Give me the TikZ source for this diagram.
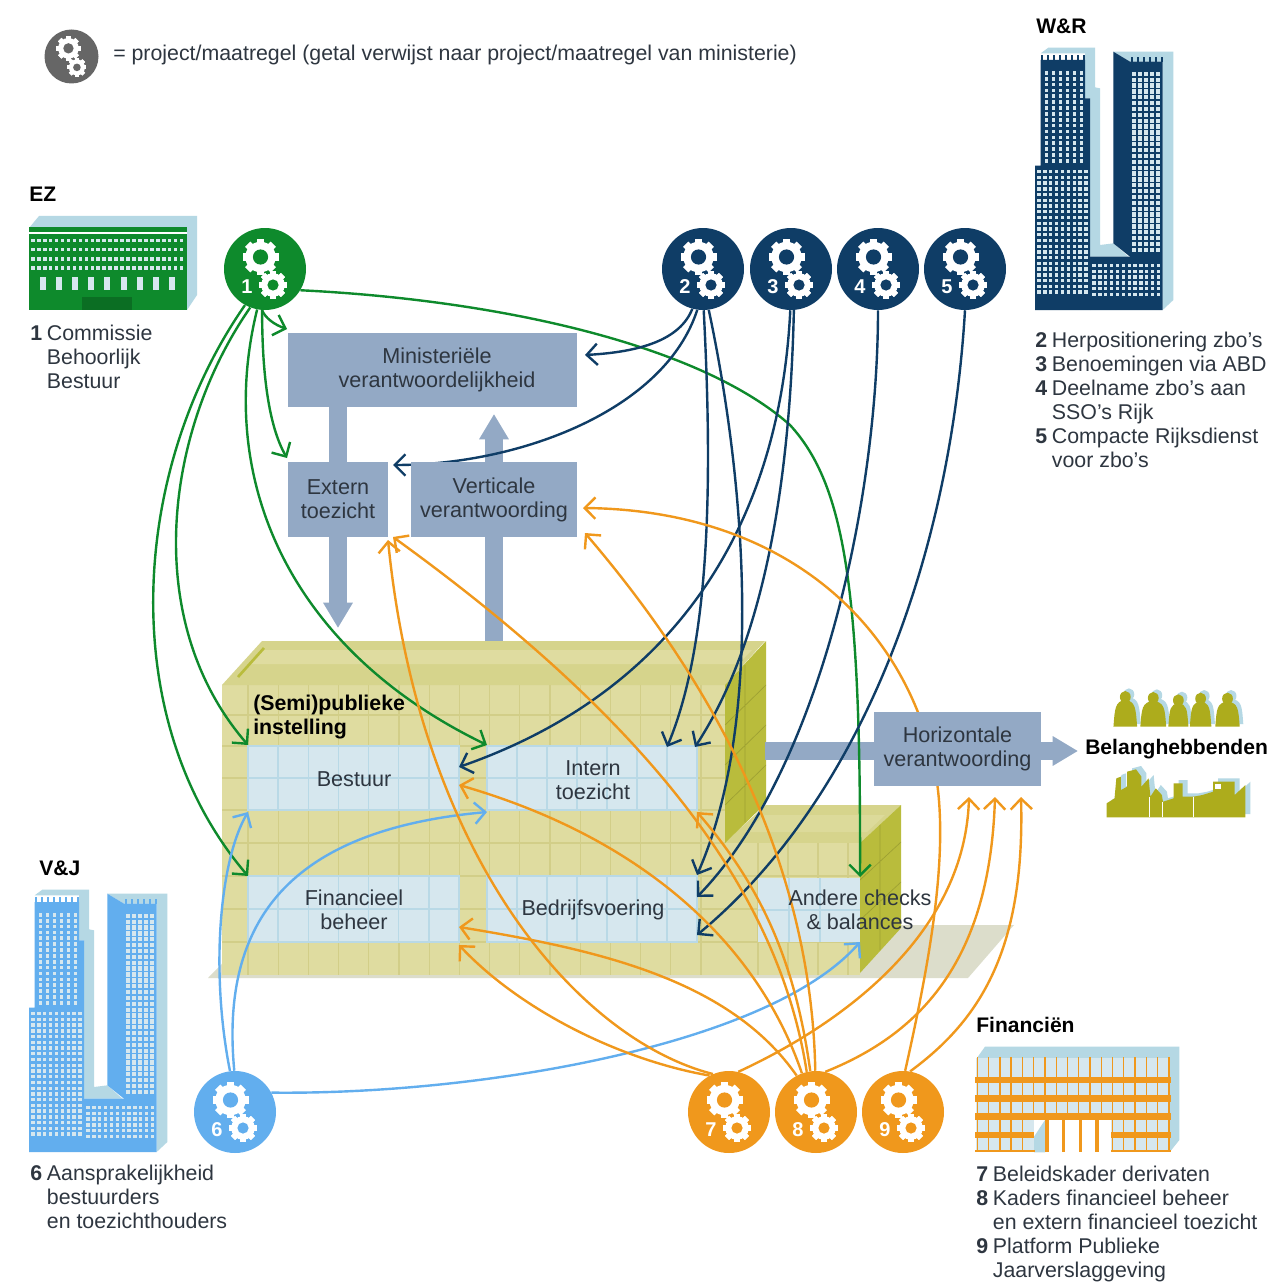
\documentclass[tikz,border=0pt]{standalone}
\usepackage{fontspec}
\setmainfont{Liberation Sans}
\usetikzlibrary{arrows.meta}
\definecolor{cgreen}{HTML}{0E8A2C}
\definecolor{cnavy}{HTML}{0F3D66}
\definecolor{csky}{HTML}{62AEEE}
\definecolor{corange}{HTML}{F0981C}
\definecolor{cgrey}{HTML}{666666}
\definecolor{cbox}{HTML}{93A9C5}
\definecolor{ctext}{HTML}{2E3640}
\definecolor{cfront}{HTML}{DFDCA0}
\definecolor{cgrid}{HTML}{D2CE88}
\definecolor{croof}{HTML}{D6D48C}
\definecolor{cwall}{HTML}{B9BC3C}
\definecolor{colive}{HTML}{ADAC1C}
\definecolor{cwin}{HTML}{D6E7EE}
\definecolor{cwinl}{HTML}{B9D9E6}
\definecolor{cpale}{HTML}{B5D8E4}
\definecolor{cground}{HTML}{DCDDCB}
\pgfdeclarelayer{fore}
\pgfsetlayers{main,fore}
\newcommand\nm[1]{\makebox[12.5pt][l]{\bfseries #1}}
\newcommand\nmi{\hspace*{12.5pt}}
\newcommand\gearsym[4]{% cx cy col scale
  \begin{scope}[shift={(#1,#2)},scale=#4]
    \foreach \a in {0,45,...,315}{\fill[white,shift={(-4.5,-12)},rotate=\a] (-3.6,-18) rectangle (3.6,18);}
    \fill[white] (-4.5,-12) circle (15.2);
    \fill[#3] (-4.5,-12) circle (7.6);
    \foreach \a in {0,45,...,315}{\fill[white,shift={(8,16)},rotate=\a] (-2.9,-14) rectangle (2.9,14);}
    \fill[white] (8,16) circle (11.8);
    \fill[#3] (8,16) circle (5.6);
  \end{scope}
}
\newcommand\winbox[4]{%
  \fill[cwin] (#1,#2) rectangle (#3,#4);
  \foreach \q in {1,...,6}{\draw[cwinl,line width=1.1pt] ({#1+\q*(#3-#1)/7},#2) -- ({#1+\q*(#3-#1)/7},#4);}
  \draw[cwinl,line width=1.1pt] (#1,{(#2+#4)/2}) -- (#3,{(#2+#4)/2});
  \draw[cwinl,line width=1.1pt] (#1,#2) rectangle (#3,#4);
}
\newcommand\tower[4]{% x0 y0 dark window
  \begin{scope}[shift={(#1,#2)},x=.25pt,y=-.25pt]
    \fill[cpale] (122,160)--(145,143)--(285,143)--(285,262)--(300,265)--(300,735)--(340,730)--(385,770)--(270,770)--(270,295)--(255,295)--(255,160)--cycle;
    \fill[cpale] (340,155)--(520,155)--(520,900)--(488,930)--(488,185)--(390,185)--cycle;
    \fill[#3] (340,155)--(390,185)--(390,770)--(340,730)--cycle;
    \fill[#3] (122,180)--(255,180)--(255,295)--(270,295)--(270,930)--(105,930)--(105,497)--(122,497)--cycle;
    \fill[#3] (390,185)--(488,185)--(488,930)--(270,930)--(270,770)--(390,770)--cycle;
    \foreach \i in {0,...,7}{\fill[#3] ({124+\i*18},165) rectangle ({130+\i*18},182);}
    \foreach \i in {0,...,5}{\fill[#3] ({392+\i*18},172) rectangle ({398+\i*18},187);}
    \foreach \i in {0,...,5}{\foreach \j in {0,...,15}{\fill[#4] ({134+\i*21},{213+\j*17.6}) rectangle ({145+\i*21},{224+\j*17.6});}}
    \foreach \i in {0,...,8}{\foreach \j in {0,...,21}{\fill[#4] ({112+\i*17.6},{510+\j*17.2}) rectangle ({122+\i*17.6},{520+\j*17.2});}}
    \foreach \i in {0,...,11}{\foreach \j in {0,...,5}{\fill[#4] ({277+\i*17.6},{792+\j*17.2}) rectangle ({287+\i*17.6},{802+\j*17.2});}}
    \foreach \i in {0,...,4}{\foreach \j in {0,...,30}{\fill[#4] ({397+\i*18},{215+\j*17.6}) rectangle ({407+\i*18},{228+\j*17.6});}}
  \end{scope}
}
\tikzset{
  circ/.style={circle,minimum size=61.5pt,inner sep=0pt,fill=#1},
  numlab/.style={font=\fontsize{15}{18}\selectfont\bfseries,text=white,inner sep=0pt},
  boxn/.style={fill=cbox,inner sep=0pt,text=ctext,align=center,font=\fontsize{16.2}{18}\selectfont},
  lab/.style={text=ctext,align=center,font=\fontsize{16.2}{18}\selectfont,inner sep=0pt},
  lst/.style={text=ctext,align=left,anchor=north west,font=\fontsize{16}{18}\selectfont,inner sep=0pt},
  head/.style={text=black,anchor=west,font=\fontsize{15.8}{18}\selectfont\bfseries,inner sep=0pt},
  conn/.style={line width=1.8pt,-{Straight Barb[length=8pt,width=16pt]}},
  fat/.style={cbox,line width=13.5pt},
  fatarrow/.style={cbox,line width=13.5pt,-{Triangle[length=19pt,width=21pt]}}
}
\begin{document}
\begin{tikzpicture}[x=.75pt,y=-.75pt]
\useasboundingbox (0,0) rectangle (1285,1284);
\fill[white] (0,0) rectangle (1285,1284);

% ground and building
\fill[cground] (208,978)--(260,925)--(1014,925)--(968,978)--cycle;
\fill[croof] (724,843)--(766,805)--(901,805)--(860,843)--cycle;
\fill[cfront!70!croof] (745,832)--(765,815)--(885,815)--(867,832)--cycle;
\fill[cwall] (860,843)--(901,805)--(901,928)--(860,973)--cycle;
\draw[cwall!85!black,line width=.5pt] (860,880)--(901,842) (860,920)--(901,882) (880,825)--(880,950);
\fill[cfront] (222,685) rectangle (725,975);
\fill[cfront] (725,843) rectangle (860,975);
\foreach \yy in {715,746,778,810,843,876,909,942}{\draw[cgrid,line width=.9pt] (222,\yy) -- (725,\yy);}
\foreach \yy in {876,909,942}{\draw[cgrid,line width=.9pt] (725,\yy) -- (860,\yy);}
\foreach \i in {0,...,15}{\draw[cgrid,line width=.9pt] ({248+\i*30.2},685) -- ({248+\i*30.2},975);}
\foreach \i in {0,...,3}{\draw[cgrid,line width=.9pt] ({758+\i*30},843) -- ({758+\i*30},975);}
\fill[croof] (222,685)--(262,641)--(765,641)--(725,685)--cycle;
\fill[cfront] (262,650)--(752,650)--(738,664)--(250,664)--cycle;
\draw[cwall,line width=2pt] (238,677)--(264,648);
\fill[cwall] (725,685)--(766,641)--(766,803)--(725,843)--cycle;
\draw[cwall!85!black,line width=.5pt] (725,725)--(766,685) (725,765)--(766,725) (725,805)--(766,765) (745,665)--(745,822);
\winbox{248}{746}{459}{810}
\winbox{487}{746}{697}{810}
\winbox{248}{876}{459}{942}
\winbox{487}{876}{697}{942}
\fill[cwin] (758,878) rectangle (860,942);
\foreach \q in {789,820}{\draw[cwinl,line width=1.1pt] (\q,878) -- (\q,942);}
\draw[cwinl,line width=1.1pt] (758,910) -- (860,910);

% buildings of the ministries
% EZ
\fill[cpale] (29,228)--(39,216)--(197,216)--(197,295)--(187,310)--(187,228)--cycle;
\fill[cgreen] (29,227) rectangle (187,232);
\fill[cgreen] (29,234) rectangle (187,310);
\fill[cgreen!80!black] (82,297) rectangle (132,310);
\foreach \j in {0,...,3}{\foreach \i in {0,...,25}{\fill[cwin] ({31+\i*5.95},{238.5+\j*9.3}) rectangle ({34.6+\i*5.95},{242+\j*9.3});}}
\foreach \i in {0,...,8}{\fill[cwin] ({39.5+\i*16.2},277) rectangle ({45.5+\i*16.2},290);}
% W&R, V&J
\tower{1000}{0}{cnavy}{cwin}
\tower{-6}{842}{csky}{cwin}
% Financien
\begin{scope}[shift={(960,1010)},x=.25pt,y=-.25pt]
  \fill[cpale] (50,145)--(75,110)--(658,110)--(658,390)--(630,425)--(630,145)--cycle;
  \fill[cwin] (48,145) rectangle (630,425);
  \fill[white] (222,330) rectangle (452,427);
  \fill[cpale] (222,380)--(255,330)--(255,427)--(222,427)--cycle;
  \foreach \i in {0,...,17}{\ifnum\i<5\fill[corange] ({50+\i*33.8},142) rectangle ({54+\i*33.8},425);\else\ifnum\i>11\fill[corange] ({50+\i*33.8},142) rectangle ({54+\i*33.8},425);\else\fill[corange] ({50+\i*33.8},142) rectangle ({54+\i*33.8},330);\fi\fi}
  \fill[corange] (46,200) rectangle (632,220);
  \fill[corange] (46,255) rectangle (632,275);
  \fill[corange] (46,310) rectangle (632,330);
  \fill[corange] (46,365) rectangle (222,385);
  \fill[corange] (452,365) rectangle (632,385);
  \fill[corange] (46,420) rectangle (225,427);
  \fill[corange] (452,420) rectangle (632,427);
  \foreach \q in {256,305,356,406}{\fill[corange] (\q,330) rectangle ({\q+11},425);}
\end{scope}
% Belanghebbenden: people and skyline
\begin{scope}[shift={(720,680)},x=.269pt,y=-.25pt]
  \foreach \xx/\ww/\tp in {1130/33/35,1208/36/38,1278/28/45,1340/30/40,1415/34/40}{
    \begin{scope}[shift={(10,-8)}]
      \fill[cpale] ({\xx-\ww},140) .. controls ({\xx-\ww+4},85) and ({\xx-\ww+4},{\tp+30}) .. (\xx,{\tp+24}) .. controls ({\xx+\ww-4},{\tp+30}) and ({\xx+\ww-4},85) .. ({\xx+\ww},140) -- cycle;
      \fill[cpale] (\xx,{\tp+16}) ellipse (15 and 18);
    \end{scope}
    \fill[colive] ({\xx-\ww},140) .. controls ({\xx-\ww+4},85) and ({\xx-\ww+4},{\tp+30}) .. (\xx,{\tp+24}) .. controls ({\xx+\ww-4},{\tp+30}) and ({\xx+\ww-4},85) .. ({\xx+\ww},140) -- cycle;
    \fill[colive] (\xx,{\tp+16}) ellipse (15 and 18);
  }
  \fill[cpale,shift={(14,-10)}] (1078,412)--(1078,370)--(1100,355)--(1105,295)--(1118,290)--(1118,330)--(1135,320)--(1135,275)--(1160,268)--(1175,290)--(1175,320)--(1195,295)--(1200,350)--(1215,325)--(1232,345)--(1235,365)--(1265,355)--(1265,310)--(1290,310)--(1290,350)--(1320,350)--(1345,345)--(1375,335)--(1375,305)--(1435,305)--(1435,345)--(1465,315)--(1465,412)--cycle;
  \fill[colive] (1078,412)--(1078,370)--(1100,355)--(1105,295)--(1118,290)--(1118,330)--(1135,320)--(1135,275)--(1160,268)--(1175,290)--(1175,320)--(1195,295)--(1200,350)--(1215,325)--(1232,345)--(1235,365)--(1265,355)--(1265,310)--(1290,310)--(1290,350)--(1320,350)--(1345,345)--(1375,335)--(1375,305)--(1435,305)--(1435,345)--(1465,315)--(1465,412)--cycle;
  \fill[white] (1380,312) rectangle (1396,326);
  \draw[white,line width=.7pt] (1198,412)--(1198,350) (1235,412)--(1235,365) (1320,412)--(1320,350);
\end{scope}

\begin{pgfonlayer}{fore}
  % legend
  \node[circ=cgrey,minimum size=40.5pt] (cL) at (71.5,56.5) {};
  \gearsym{71.5}{56.5}{cgrey}{.68}
  \node[text=ctext,anchor=west,inner sep=0pt,font=\fontsize{16}{18}\selectfont] (legend) at (113,55) {= project/maatregel (getal verwijst naar project/maatregel van ministerie)};
  % numbered circles
  \foreach \nme/\xx/\yy/\cc in {1/265/269/cgreen,2/703/269/cnavy,3/791/269/cnavy,4/878/269/cnavy,5/965/269/cnavy,6/235/1112/csky,7/729/1112/corange,8/816/1112/corange,9/903/1112/corange}{
    \node[circ=\cc] (c\nme) at (\xx,\yy) {};
    \gearsym{\xx}{\yy}{\cc}{1}
    \node[numlab] (n\nme) at ({\xx-18},{\yy+18}) {\nme};
  }
  % boxes
  \path[fill=cbox] (288,333) rectangle (577,407);
  \node[lab,minimum height=55.5pt] (min) at (437,370) {Ministeriële\\verantwoordelijkheid};
  \node[boxn,minimum width=75pt,minimum height=56.25pt] (ext) at (338,499.5) {Extern\\toezicht};
  \node[boxn,minimum width=124.5pt,minimum height=56.25pt] (ver) at (494,499.5) {Verticale\\verantwoording};
  \node[boxn,minimum width=125.25pt,minimum height=55.5pt] (hor) at (957.5,749) {Horizontale\\verantwoording};
  % labels in the building
  \node[lab] (lbes) at (354,779) {Bestuur};
  \node[lab] (lint) at (593,780) {Intern\\toezicht};
  \node[lab] (lfin) at (354,910) {Financieel\\beheer};
  \node[lab] (lbed) at (593,910) {Bedrijfsvoering};
  \node[lab] (land) at (860,910) {Andere checks\\\& balances};
  \node[lst,text=black,font=\fontsize{16}{18}\selectfont\bfseries] (semi) at (253,695) {(Semi)publieke\\instelling};
  % headings and lists
  \node[head] (hez) at (29,194) {EZ};
  \node[head] (hwr) at (1036,26) {W\&R};
  \node[head] (hvj) at (39,868) {V\&J};
  \node[head] (hfi) at (976,1025) {Financiën};
  \node[head] (hbe) at (1085,749) {Belanghebbenden};
  \node[lst] (l1) at (30,325) {\nm{1}Commissie\\\nmi Behoorlijk\\\nmi Bestuur};
  \node[lst] (l2) at (1035,332) {\nm{2}Herpositionering zbo’s\\\nm{3}Benoemingen via ABD\\\nm{4}Deelname zbo’s aan\\\nmi SSO’s Rijk\\\nm{5}Compacte Rijksdienst\\\nmi voor zbo’s};
  \node[lst] (l6) at (30,1165) {\nm{6}Aansprakelijkheid\\\nmi bestuurders\\\nmi en toezichthouders};
  \node[lst] (l7) at (976,1166) {\nm{7}Beleidskader derivaten\\\nm{8}Kaders financieel beheer\\\nmi en extern financieel toezicht\\\nm{9}Platform Publieke\\\nmi Jaarverslaggeving};
\end{pgfonlayer}

% thick arrows
\coordinate (exttip) at (338,628);
\coordinate (vertip) at (494,414);
\coordinate (bldtop) at (494,641);
\coordinate (bldside) at (765,751);
\coordinate (bentip) at (1078,751);
\draw[fat] (min.south -| ext) -- (ext.north);
\draw[fatarrow] (ext.south) -- (exttip);
\draw[fat] (bldtop) -- (ver.south);
\draw[fatarrow] (ver.north) -- (vertip);
\draw[fat] (bldside) -- (hor.west |- bldside);
\draw[fatarrow] (hor.east |- bldside) -- (bentip);

% arrow ends
\coordinate (tA) at (287,329);
\coordinate (tB) at (287,458);
\coordinate (tC) at (487,745);
\coordinate (tD) at (248,745);
\coordinate (tE) at (248,876);
\coordinate (tF) at (860,877);
\coordinate (uA) at (585,355);
\coordinate (uB) at (393,465);
\coordinate (uC) at (459,767);
\coordinate (uD) at (667,747);
\coordinate (uE) at (695,747);
\coordinate (uF) at (697,875);
\coordinate (uG) at (697,897);
\coordinate (uH) at (697,935);
\coordinate (vA) at (248,812);
\coordinate (vB) at (487,812);
\coordinate (vC) at (860,942);
\coordinate (oA) at (583,508);
\coordinate (oB) at (585,533);
\coordinate (oC) at (393,537);
\coordinate (oD) at (388,540);
\coordinate (oE) at (459,785);
\coordinate (oF) at (697,812);
\coordinate (oG) at (459,927);
\coordinate (oH) at (459,945);
\coordinate (oI) at (969,797);
\coordinate (oJ) at (995,797);
\coordinate (oK) at (1021,797);

% green
\begin{scope}[cgreen]
\draw[conn] (c1.-94) .. controls (265,318) and (275,325) .. (tA);
\draw[conn] (c1.-94) .. controls (262,370) and (268,425) .. (tB);
\draw[conn] (c1.-101) .. controls (215,480) and (290,650) .. (tC);
\draw[conn] (c1.-111) .. controls (165,430) and (140,620) .. (tD);
\draw[conn] (c1.-119) .. controls (130,470) and (115,720) .. (tE);
\draw[conn] (c1.-31) .. controls (500,300) and (700,345) .. (790,425) .. controls (845,485) and (861,590) .. (tF);
\end{scope}
% navy
\begin{scope}[cnavy]
\draw[conn] (c2.-105) .. controls (680,340) and (640,352) .. (uA);
\draw[conn] (c2.-98) .. controls (665,410) and (520,465) .. (uB);
\draw[conn] (c2.-89) .. controls (712,470) and (712,640) .. (uD);
\draw[conn] (c2.-82) .. controls (745,480) and (765,720) .. (uF);
\draw[conn] (c3.-91) .. controls (780,520) and (680,690) .. (uC);
\draw[conn] (c3.-86) .. controls (790,480) and (765,640) .. (uE);
\draw[conn] (c4.-90) .. controls (878,500) and (820,770) .. (uG);
\draw[conn] (c5.-90) .. controls (950,560) and (860,800) .. (uH);
\end{scope}
% light blue
\begin{scope}[csky]
\draw[conn] (c6.97) .. controls (210,970) and (220,860) .. (vA);
\draw[conn] (c6.91) .. controls (220,920) and (290,830) .. (vB);
\draw[conn] (c6.28) .. controls (480,1095) and (770,1045) .. (vC);
\end{scope}
% orange
\begin{scope}[corange]
\draw[conn] (c7.113) .. controls (580,1040) and (420,860) .. (oD);
\draw[conn] (c7.118) .. controls (620,1060) and (520,1010) .. (oH);
\draw[conn] (c7.77) .. controls (850,1020) and (965,930) .. (oI);
\draw[conn] (c8.118) .. controls (730,980) and (600,950) .. (oG);
\draw[conn] (c8.110) .. controls (760,950) and (650,840) .. (oE);
\draw[conn] (c8.103) .. controls (780,900) and (660,730) .. (oC);
\draw[conn] (c8.98) .. controls (795,960) and (760,885) .. (oF);
\draw[conn] (c8.91) .. controls (812,900) and (745,720) .. (oB);
\draw[conn] (c8.77) .. controls (930,1030) and (990,950) .. (oJ);
\draw[conn] (c9.87) .. controls (930,960) and (950,850) .. (935,770) .. controls (905,620) and (780,510) .. (oA);
\draw[conn] (c9.80) .. controls (980,1020) and (1025,950) .. (oK);
\end{scope}
\end{tikzpicture}
\end{document}
